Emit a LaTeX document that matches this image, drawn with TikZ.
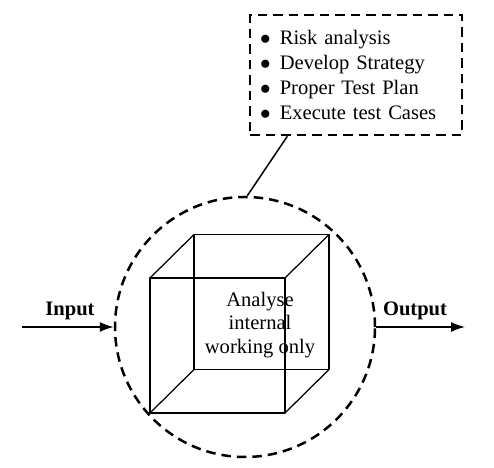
\documentclass[tikz,border=0pt]{standalone}
\usepackage{fontspec}
\setmainfont{Liberation Serif}
\usetikzlibrary{arrows.meta,calc}
\tikzset{
  dashline/.style={
    dash pattern=on 0.19cm off 0.12cm,
    line width=0.5mm
  },
  cubeline/.style={line width=0.25mm, line join=round},
  io-arrow/.style={
    -{Latex[length=2.8mm,width=2mm]},
    line width=0.3mm
  },
  io-label/.style={font=\bfseries\fontsize{11.7}{14}\selectfont},
  plain-text/.style={font=\fontsize{11.7}{13.6}\selectfont, align=center},
  steps-box/.style={
    dashline,
    draw,
    rectangle,
    minimum width=4.24cm,
    minimum height=2.4cm,
    inner xsep=0.2cm,
    text width=3.84cm,
    align=left,
    font=\fontsize{11.7}{14.2}\selectfont
  }
}
\newcommand{\stepitem}[1]{$\bullet$\hspace{0.45em}#1}

\begin{document}
\begin{tikzpicture}
  \useasboundingbox (0,0) rectangle (9.88,9.36);
  \node[circle, draw, dashline, minimum size=5.2cm] (circ) at (4.9,2.82) {};
  \node[steps-box] (steps) at (7.12,7.86) {%
    \stepitem{Risk analysis}\\
    \stepitem{Develop Strategy}\\
    \stepitem{Proper Test Plan}\\
    \stepitem{Execute test Cases}};
  \draw[line width=0.3mm] ($(steps.south west)!0.18!(steps.south east)$) -- (circ.89);
  \draw[cubeline] (3.0,1.1) rectangle (5.7,3.8);
  \draw[cubeline] (3.88,1.97) rectangle (6.58,4.67);
  \foreach \x/\y in {3.0/1.1,5.7/1.1,3.0/3.8,5.7/3.8} {
    \draw[cubeline] (\x,\y) -- ++(0.88,0.87);
  }
  \node[plain-text] (inside) at (5.2,2.86) {Analyse\\internal\\working only};
  \coordinate (in) at (0.44,2.82);
  \coordinate (out) at (9.3,2.82);
  \draw[io-arrow] (in) -- (circ.west);
  \draw[io-arrow] (circ.east) -- (out);
  \node[io-label] (input) at (1.4,3.14) {Input};
  \node[io-label] (output) at (8.3,3.14) {Output};
\end{tikzpicture}
\end{document}
